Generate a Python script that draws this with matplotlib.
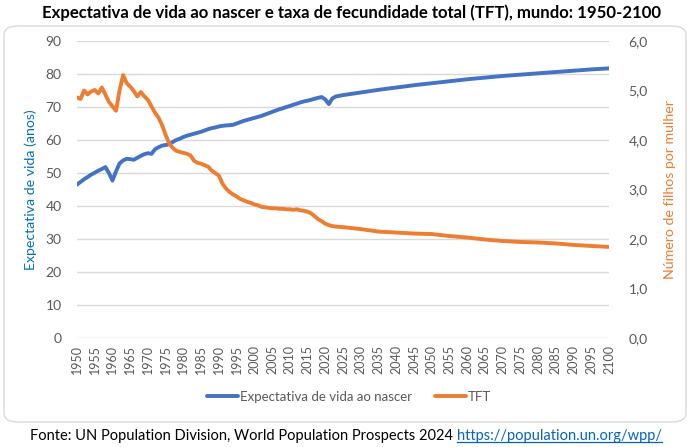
import matplotlib
matplotlib.use("Agg")
import matplotlib.pyplot as plt
from matplotlib.patches import FancyBboxPatch
from matplotlib.lines import Line2D

plt.rcParams['font.family'] = ['Lato', 'DejaVu Sans']

# ---- data ----
le_years = list(range(1950, 2024)) + [2025, 2030, 2035, 2040, 2045, 2050, 2055, 2060,
                                      2065, 2070, 2075, 2080, 2085, 2090, 2095, 2100]
life_exp = [46.5, 47.3, 48.1, 48.8, 49.5, 50.1, 50.7, 51.2, 51.8, 50.0,
            47.7, 50.5, 52.9, 53.8, 54.3, 54.2, 54.0, 54.6, 55.2, 55.7,
            56.0, 55.8, 57.2, 57.8, 58.3, 58.5, 58.7, 59.4, 60.0, 60.4,
            60.9, 61.3, 61.6, 61.9, 62.2, 62.5, 62.9, 63.3, 63.6, 63.8,
            64.1, 64.3, 64.4, 64.5, 64.6, 65.0, 65.4, 65.8, 66.1, 66.4,
            66.7, 67.0, 67.3, 67.7, 68.1, 68.5, 68.9, 69.3, 69.6, 70.0,
            70.3, 70.7, 71.0, 71.4, 71.7, 71.9, 72.2, 72.5, 72.8, 73.0,
            72.3, 70.9, 72.6, 73.2,
            73.6, 74.4, 75.2, 75.9, 76.6, 77.2, 77.8, 78.4, 78.9, 79.4,
            79.8, 80.2, 80.6, 81.0, 81.4, 81.7]

tft_years = le_years
tft = [4.86, 4.83, 5.00, 4.92, 4.98, 5.01, 4.94, 5.06, 4.92, 4.77,
       4.68, 4.59, 5.00, 5.31, 5.15, 5.08, 4.99, 4.88, 4.97, 4.88,
       4.81, 4.68, 4.55, 4.45, 4.30, 4.10, 3.93, 3.84, 3.78, 3.76,
       3.74, 3.72, 3.69, 3.58, 3.54, 3.52, 3.49, 3.46, 3.38, 3.33,
       3.28, 3.12, 3.02, 2.95, 2.90, 2.86, 2.81, 2.78, 2.75, 2.73,
       2.70, 2.68, 2.65, 2.64, 2.63, 2.62, 2.62, 2.61, 2.61, 2.60,
       2.60, 2.59, 2.60, 2.58, 2.57, 2.55, 2.52, 2.46, 2.40, 2.36,
       2.31, 2.28, 2.26, 2.25,
       2.24, 2.20, 2.15, 2.13, 2.11, 2.10, 2.06, 2.03, 1.99, 1.96,
       1.94, 1.93, 1.91, 1.88, 1.86, 1.84]

x_ticks = list(range(1950, 2101, 5))
left_ticks = list(range(0, 91, 10))
right_ticks = [0, 1, 2, 3, 4, 5, 6]

title = "Expectativa de vida ao nascer e taxa de fecundidade total (TFT), mundo: 1950-2100"
source = "Fonte: UN Population Division, World Population Prospects 2024 "
link = "https://population.un.org/wpp/"

BLUE = "#4472C4"
ORANGE = "#ED7D31"
GRAY = "#595959"
W, H = 692, 447

fig = plt.figure(figsize=(W / 100, H / 100), dpi=100)

# chart area border
box = FancyBboxPatch((4 / W, 1 - 422 / H), 682 / W, 396 / H,
                     boxstyle="round,pad=0,rounding_size=0.02",
                     transform=fig.transFigure, facecolor="white",
                     edgecolor="#D9D9D9", linewidth=1.0, zorder=-5)
fig.patches.append(box)

ax = fig.add_axes([77 / W, 1 - 338 / H, (609 - 77) / W, (338 - 41) / H])
ax.set_facecolor("none")
ax2 = ax.twinx()

l1, = ax.plot(le_years, life_exp, color=BLUE, lw=2.8, solid_capstyle="round", zorder=3)
l2, = ax2.plot(tft_years, tft, color=ORANGE, lw=2.8, solid_capstyle="round", zorder=3)

ax.set_xlim(1950, 2100)
ax.set_ylim(0, 90)
ax2.set_ylim(0, 6)
ax.set_yticks(left_ticks)
ax2.set_yticks(right_ticks)
ax2.set_yticklabels([f"{v:.1f}".replace(".", ",") for v in right_ticks])
ax.set_xticks(x_ticks)
ax.set_xticklabels([str(v) for v in x_ticks], rotation=90)

ax.grid(axis="y", color="#D9D9D9", lw=1.0)
ax.set_axisbelow(True)
for a in (ax, ax2):
    for s in a.spines.values():
        s.set_visible(False)
    a.tick_params(length=0, colors=GRAY)
ax.tick_params(axis="y", labelsize=10, pad=11)
ax2.tick_params(axis="y", labelsize=10, pad=14)
ax.tick_params(axis="x", labelsize=9, pad=5)

ax.set_ylabel("Expectativa de vida (anos)", color="#0070C0", fontsize=10.2, labelpad=6)
ax2.set_ylabel("Número de filhos por mulher", color=ORANGE, fontsize=10.2, labelpad=12)

fig.text(352 / W, 1 - 13 / H, title, ha="center", va="center", fontsize=12.1,
         fontweight="bold", color="black")

leg = fig.legend([l1, l2], ["Expectativa de vida ao nascer", "TFT"],
                 loc="center", bbox_to_anchor=(349 / W, 1 - 397 / H),
                 ncol=2, frameon=False, fontsize=9.5, handlelength=2.4,
                 handletextpad=0.15, columnspacing=1.7)
for t in leg.get_texts():
    t.set_color(GRAY)

t1 = fig.text(30 / W, 1 - 436 / H, source, ha="left", va="center", fontsize=10.5,
              color="black")
fig.canvas.draw()
r = fig.canvas.get_renderer()
bb = t1.get_window_extent(r)
x_link = bb.x1 / W
t2 = fig.text(x_link, 1 - 436 / H, link, ha="left", va="center", fontsize=10.5,
              color="#0563C1")
fig.canvas.draw()
bb2 = t2.get_window_extent(r)
yline = (bb2.y0 + 1) / H
fig.add_artist(Line2D([bb2.x0 / W, bb2.x1 / W], [yline, yline],
                      transform=fig.transFigure, color="#0563C1", lw=0.9))

fig.savefig("out.png", dpi=100)
